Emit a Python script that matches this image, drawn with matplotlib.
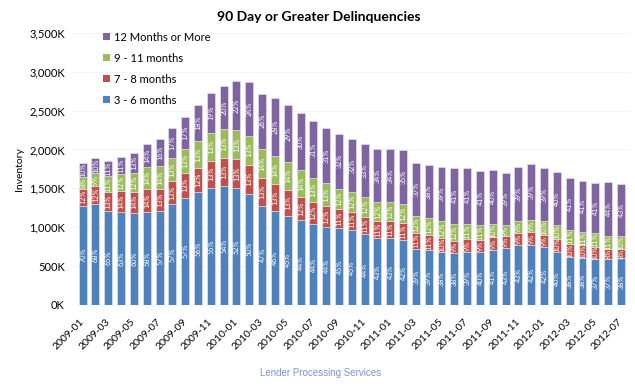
import numpy as np
import matplotlib
matplotlib.use("Agg")
import matplotlib.pyplot as plt
from matplotlib.patches import Patch
from matplotlib.ticker import FuncFormatter

plt.rcParams['font.family'] = ['Lato', 'DejaVu Sans']

# months 2009-01 .. 2012-07
months = [f"{y}-{m:02d}" for y in range(2009, 2013) for m in range(1, 13)][:43]

# total 90+ day inventory, thousands of loans
totals = [1827, 1888, 1857, 1900, 1952, 2068, 2130, 2280, 2423, 2574,
          2732, 2823, 2883, 2866, 2716, 2660, 2578, 2475, 2368, 2274,
          2201, 2132, 2068, 2004, 2004, 1991, 1831, 1798, 1776, 1759,
          1759, 1728, 1737, 1695, 1780, 1811, 1767, 1708, 1631, 1600,
          1574, 1587, 1561]

# share of each bucket (%), as labelled on the bars
pct_3_6 = [70, 68, 65, 63, 60, 58, 57, 57, 57, 56, 55, 54, 52, 50, 47,
           46, 45, 44, 44, 44, 45, 45, 44, 43, 43, 42, 39, 39, 38, 38,
           39, 40, 41, 43, 43, 42, 42, 40, 38, 38, 37, 37, 38]
pct_7_8 = [12, 12, 13, 14, 14, 14, 13, 13, 13, 12, 13, 13, 13, 13, 13,
           13, 13, 12, 12, 12, 11, 11, 11, 11, 11, 11, 11, 11, 10, 9,
           9, 9, 9, 9, 9, 9, 9, 10, 10, 10, 10, 8, 8]
pct_9_11 = [8, 9, 11, 12, 12, 14, 14, 13, 13, 13, 13, 13, 13, 13, 14,
            14, 14, 14, 13, 13, 12, 12, 12, 12, 12, 12, 12, 12, 12, 12,
            11, 11, 10, 9, 9, 9, 10, 10, 11, 11, 11, 11, 10]
pct_12p = [10, 10, 11, 11, 13, 14, 16, 17, 17, 18, 19, 20, 22, 24, 26,
           28, 29, 30, 31, 31, 32, 32, 33, 34, 34, 35, 37, 38, 39, 41,
           41, 41, 40, 39, 39, 39, 39, 40, 41, 41, 41, 44, 43]

series = [
    ("3 - 6 months", pct_3_6, "#4F81BD"),
    ("7 - 8 months", pct_7_8, "#C0504D"),
    ("9 - 11 months", pct_9_11, "#9BBB59"),
    ("12 Months or More", pct_12p, "#8064A2"),
]

fig = plt.figure(figsize=(6.35, 3.87), dpi=100)
ax = fig.add_axes([0.113, 0.212, 0.879, 0.703])

x = np.arange(len(months))
tot = np.array(totals, dtype=float)
pct_sum = np.array(pct_3_6) + np.array(pct_7_8) + np.array(pct_9_11) + np.array(pct_12p)
bottom = np.zeros(len(months))
handles = []
for name, pct, color in series:
    vals = tot * np.array(pct) / pct_sum
    ax.bar(x, vals, 0.62, bottom=bottom, color=color,
           edgecolor="#e8e8f0", linewidth=0.4)
    for xi, b, v, p in zip(x, bottom, vals, pct):
        ax.text(xi, b + v / 2, f"{p}%", rotation=90, ha="center", va="center",
                color="white", fontsize=5.2)
    bottom = bottom + vals
    handles.append(Patch(facecolor=color, label=name))

ax.set_ylim(0, 3500)
ax.set_xlim(-0.85, len(months) - 0.3)
ax.set_yticks(np.arange(0, 3501, 500))
ax.yaxis.set_major_formatter(FuncFormatter(lambda v, _: f"{int(v):,}K"))
ax.set_xticks(x[::2])
ax.set_xticklabels(months[::2], rotation=45, ha="right", va="center",
                   rotation_mode="anchor", fontsize=7.5)
ax.tick_params(axis="x", length=0, pad=11)
ax.tick_params(axis="y", length=0, labelsize=8, pad=5)
ax.grid(axis="y", color="#f2f2f2", linewidth=0.6)
ax.set_axisbelow(True)
for s in ax.spines.values():
    s.set_visible(False)

ax.set_ylabel("Inventory", fontsize=7.5, labelpad=4)

ax.legend(handles=handles[::-1], loc="upper left",
          bbox_to_anchor=(0.155, 0.93), bbox_transform=fig.transFigure,
          frameon=False, fontsize=8, handlelength=0.6, handleheight=0.6,
          handletextpad=0.4, labelspacing=0.9, borderaxespad=0)

fig.text(0.502, 1 - 17 / 387, "90 Day or Greater Delinquencies",
         ha="center", va="center", fontsize=10, fontweight="bold")
fig.text(0.505, 1 - 373 / 387, "Lender Processing Services",
         ha="center", va="center", fontsize=7, color="#7896d2",
         family=["Liberation Sans", "DejaVu Sans"])

fig.savefig("out.png", dpi=100)
